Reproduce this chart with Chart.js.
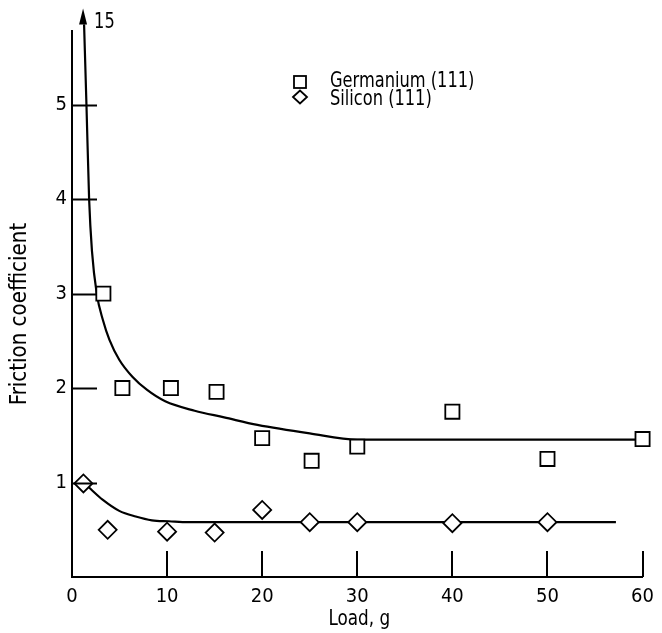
<!DOCTYPE html>
<html>
<head>
<meta charset="utf-8">
<script src="https://cdn.jsdelivr.net/npm/chart.js@4/dist/chart.umd.min.js"></script>
<style>
  html, body { margin: 0; padding: 0; background: #fff; }
</style>
</head>
<body>
<canvas id="myChart" width="662" height="633"></canvas>
<script>
// measured points
const geLoad = [3.3, 5.3, 10.4, 15.2, 20, 25.2, 30, 40, 50, 60];
const geFriction = [3.0, 2.0, 2.0, 1.96, 1.47, 1.23, 1.38, 1.75, 1.25, 1.46];
const siLoad = [1.2, 3.75, 10, 15, 20, 25, 30, 40, 50];
const siFriction = [0.99, 0.5, 0.48, 0.47, 0.71, 0.58, 0.58, 0.57, 0.58];

// faired curves (germanium runs off scale, toward 15)
const geCurveX = [1.27, 1.52, 1.8, 2.1, 2.6, 3.25, 3.94, 4.97, 6.35, 7.9, 9.8, 12.9, 16.0, 19.5, 25, 30, 60];
const geCurveY = [5.85, 5.0, 4.0, 3.45, 3.0, 2.72, 2.51, 2.30, 2.12, 1.98, 1.86, 1.76, 1.69, 1.61, 1.52, 1.455, 1.455];
const siCurveX = [1.2, 1.7, 3.25, 4.97, 6.7, 8.4, 10.2, 12.2, 57.2];
const siCurveY = [1.0, 0.955, 0.816, 0.70, 0.64, 0.60, 0.59, 0.58, 0.58];

const xTicks = [0, 10, 20, 30, 40, 50, 60];
const yTicks = [1, 2, 3, 4, 5];
const offScaleLabel = "15";
const seriesNames = ["Germanium (111)", "Silicon (111)"];
const xTitle = "Load, g";
const yTitle = "Friction coefficient";

const FONT = "'DejaVu Sans Condensed', 'Liberation Sans Narrow', sans-serif";

function toPoints(xs, ys) {
    return xs.map((x, i) => ({ x: x, y: ys[i] }));
}

// narrow text, like the lettering of the scan
function narrowText(ctx, text, x, y, size, squeeze, align) {
    ctx.save();
    ctx.translate(x, y);
    ctx.scale(squeeze, 1);
    ctx.font = size + "px " + FONT;
    ctx.textAlign = align;
    ctx.textBaseline = "middle";
    ctx.fillText(text, 0, 0);
    ctx.restore();
}

const extras = {
    id: "extras",
    afterDraw(chart) {
        const ctx = chart.ctx;
        const sx = chart.scales.x;
        const sy = chart.scales.y;
        const area = chart.chartArea;
        ctx.save();
        ctx.strokeStyle = "#000";
        ctx.fillStyle = "#000";
        ctx.lineWidth = 2;

        // tick marks point inward
        yTicks.forEach(v => {
            const py = Math.round(sy.getPixelForValue(v)) + 0.5;
            ctx.beginPath();
            ctx.moveTo(area.left, py);
            ctx.lineTo(area.left + 25, py);
            ctx.stroke();
        });
        xTicks.filter(v => v > 0).forEach(v => {
            const px = Math.round(sx.getPixelForValue(v));
            ctx.beginPath();
            ctx.moveTo(px, area.bottom);
            ctx.lineTo(px, area.bottom - 26);
            ctx.stroke();
        });

        // arrow at the top of the germanium curve
        const ax = sx.getPixelForValue(geCurveX[0]);
        const ay = sy.getPixelForValue(geCurveY[0]);
        ctx.beginPath();
        ctx.moveTo(ax - 1, ay - 16);
        ctx.lineTo(ax - 5, ay);
        ctx.lineTo(ax + 3, ay);
        ctx.closePath();
        ctx.fill();
        narrowText(ctx, offScaleLabel, ax + 10, ay - 2, 22, 0.82, "left");

        // legend
        ctx.lineWidth = 1.8;
        ctx.strokeRect(294, 76, 12, 12);
        ctx.beginPath();
        ctx.moveTo(293, 97);
        ctx.lineTo(300, 90.5);
        ctx.lineTo(307, 97);
        ctx.lineTo(300, 103.5);
        ctx.closePath();
        ctx.stroke();
        narrowText(ctx, seriesNames[0], 330, 81, 22, 0.82, "left");
        narrowText(ctx, seriesNames[1], 330, 99, 22, 0.82, "left");

        // axis titles
        narrowText(ctx, xTitle, (area.left + area.right) / 2 + 2, 619, 22, 0.85, "center");
        ctx.translate(20, 314);
        ctx.rotate(-Math.PI / 2);
        narrowText(ctx, yTitle, 0, 0, 23, 0.96, "center");
        ctx.restore();
    }
};

const ctx = document.getElementById("myChart").getContext("2d");
const myChart = new Chart(ctx, {
    type: "scatter",
    data: {
        datasets: [{
            label: seriesNames[0],
            data: toPoints(geLoad, geFriction),
            pointStyle: "rect",
            pointRadius: 10,
            pointBorderWidth: 1.8,
            pointBorderColor: "#000",
            pointBackgroundColor: "#fff",
            clip: false
        }, {
            label: seriesNames[1],
            data: toPoints(siLoad, siFriction),
            pointStyle: "rectRot",
            pointRadius: 9,
            pointBorderWidth: 1.8,
            pointBorderColor: "#000",
            pointBackgroundColor: "#fff",
            clip: false
        }, {
            label: "ge curve",
            data: toPoints(geCurveX, geCurveY),
            showLine: true,
            borderColor: "#000",
            borderWidth: 2.2,
            pointRadius: 0,
            cubicInterpolationMode: "monotone",
            clip: false
        }, {
            label: "si curve",
            data: toPoints(siCurveX, siCurveY),
            showLine: true,
            borderColor: "#000",
            borderWidth: 2.2,
            pointRadius: 0,
            cubicInterpolationMode: "monotone",
            clip: false
        }]
    },
    options: {
        responsive: false,
        animation: false,
        layout: {
            padding: { top: 31, right: 11, left: 0, bottom: 0 }
        },
        plugins: {
            legend: { display: false },
            tooltip: { enabled: false }
        },
        scales: {
            x: {
                type: "linear",
                min: 0,
                max: 60,
                afterFit: scale => { scale.height = 56; },
                afterBuildTicks: scale => { scale.ticks = xTicks.map(v => ({ value: v })); },
                grid: { drawOnChartArea: false, drawTicks: false },
                border: { display: true, color: "#000", width: 2 },
                ticks: {
                    color: "#000",
                    padding: 8,
                    font: { family: FONT, size: 20 }
                }
            },
            y: {
                type: "linear",
                min: 0,
                max: 5.78,
                afterFit: scale => { scale.width = 72; },
                afterBuildTicks: scale => { scale.ticks = yTicks.map(v => ({ value: v })); },
                grid: { drawOnChartArea: false, drawTicks: false },
                border: { display: true, color: "#000", width: 2 },
                ticks: {
                    color: "#000",
                    padding: 5,
                    font: { family: FONT, size: 20 }
                }
            }
        }
    },
    plugins: [extras]
});
</script>
</body>
</html>
